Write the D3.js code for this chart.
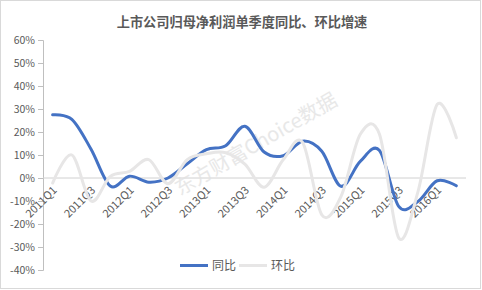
<!DOCTYPE html>
<html>
<head>
<meta charset="utf-8">
<script src="https://cdn.jsdelivr.net/npm/d3@7"></script>
<style>
  body { margin: 0; background: #fff; }
  svg { display: block; font-family: "Noto Sans CJK SC", "Noto Sans", sans-serif; }
</style>
</head>
<body>
<svg width="482" height="290"></svg>
<script>
// данные графика
const quarters = ['2011Q1','2011Q2','2011Q3','2011Q4','2012Q1','2012Q2','2012Q3','2012Q4',
                  '2013Q1','2013Q2','2013Q3','2013Q4','2014Q1','2014Q2','2014Q3','2014Q4',
                  '2015Q1','2015Q2','2015Q3','2015Q4','2016Q1','2016Q2'];
// 同比, %
const yoy = [27.5, 25.5, 12.5, -3.5, 0.8, -1.8, 0, 6.2, 12.3, 14, 22.5, 11.3,
             9.7, 16, 11.6, -3.6, 7.2, 12, -12.3, -10.2, -1.2, -3.4];
// 环比, %
const qoq = [-2.2, 10, -10, 0.7, 2.9, 8, -2.5, 8, 10.5, 11, 6, -4,
             8, 15.5, -16, -8, 19, 19, -26, -6, 32, 17.5];
const tickLabels = ['2011Q1','2011Q3','2012Q1','2012Q3','2013Q1','2013Q3',
                    '2014Q1','2014Q3','2015Q1','2015Q3','2016Q1'];
const yTicks = [-40, -30, -20, -10, 0, 10, 20, 30, 40, 50, 60];

const svg = d3.select("svg");
const attr_area = { left: 43, right: 466, top: 40, bottom: 270 };
const textColor = "#595959";

// рамка
svg.append("rect")
   .attr("x", 0.5).attr("y", 0.5)
   .attr("width", 480).attr("height", 288)
   .attr("fill", "none").attr("stroke", "#d9d9d9");

// заголовок
svg.append("text")
   .attr("x", 242).attr("y", 27)
   .attr("text-anchor", "middle")
   .attr("font-size", 13.2).attr("font-weight", "bold")
   .attr("fill", textColor)
   .text("上市公司归母净利润单季度同比、环比增速");

// шкалы
const scX = d3.scaleBand().domain(quarters).range([attr_area.left, attr_area.right]);
const scY = d3.scaleLinear().domain([-40, 60]).range([attr_area.bottom, attr_area.top]);
const cx = d => scX(d) + scX.bandwidth() / 2;

// ось OY
const axisY = svg.append("g")
   .attr("transform", `translate(${attr_area.left}, 0)`)
   .call(d3.axisLeft(scY).tickValues(yTicks).tickSize(5).tickPadding(3).tickFormat(d => d + "%"));
axisY.select(".domain").attr("stroke", "#bfbfbf");
axisY.selectAll(".tick line").attr("stroke", "#bfbfbf");
axisY.selectAll("text").attr("fill", textColor).attr("font-size", 10.5)
   .attr("font-family", "'Noto Sans CJK SC', sans-serif");

// линия нуля
svg.append("line")
   .attr("x1", attr_area.left).attr("x2", attr_area.right)
   .attr("y1", scY(0)).attr("y2", scY(0))
   .attr("stroke", "#d0d0d0");

// подписи оси OX - наклонные
svg.append("g").selectAll("text")
   .data(tickLabels)
   .enter()
   .append("text")
   .attr("transform", d => `translate(${cx(d) + 5}, ${scY(0) + 13}) rotate(-45)`)
   .attr("text-anchor", "end")
   .attr("font-size", 11)
   .attr("fill", textColor)
   .text(d => d);

// водяной знак
svg.append("text")
   .attr("transform", "translate(180, 196) rotate(-30)")
   .attr("font-size", 20)
   .attr("fill", "#e3e3e3")
   .attr("opacity", 0.8)
   .text("东方财富Choice数据");

// линии
const line = d3.line()
   .x((d, i) => cx(quarters[i]))
   .y(d => scY(d))
   .curve(d3.curveCardinal);

svg.append("path")
   .attr("d", line(yoy))
   .attr("fill", "none")
   .attr("stroke", "#4472c4")
   .attr("stroke-width", 3)
   .attr("stroke-linecap", "round");

svg.append("path")
   .attr("d", line(qoq))
   .attr("fill", "none")
   .attr("stroke", "#e7e6e6")
   .attr("stroke-width", 3)
   .attr("stroke-linecap", "round");

// легенда
const legend = [{ name: "同比", color: "#4472c4", x: 180 }, { name: "环比", color: "#e7e6e6", x: 239 }];
legend.forEach(l => {
   svg.append("line")
      .attr("x1", l.x).attr("x2", l.x + 28)
      .attr("y1", 265.5).attr("y2", 265.5)
      .attr("stroke", l.color).attr("stroke-width", 3);
   svg.append("text")
      .attr("x", l.x + 32).attr("y", 270)
      .attr("font-size", 12)
      .attr("fill", textColor)
      .text(l.name);
});
</script>
</body>
</html>
